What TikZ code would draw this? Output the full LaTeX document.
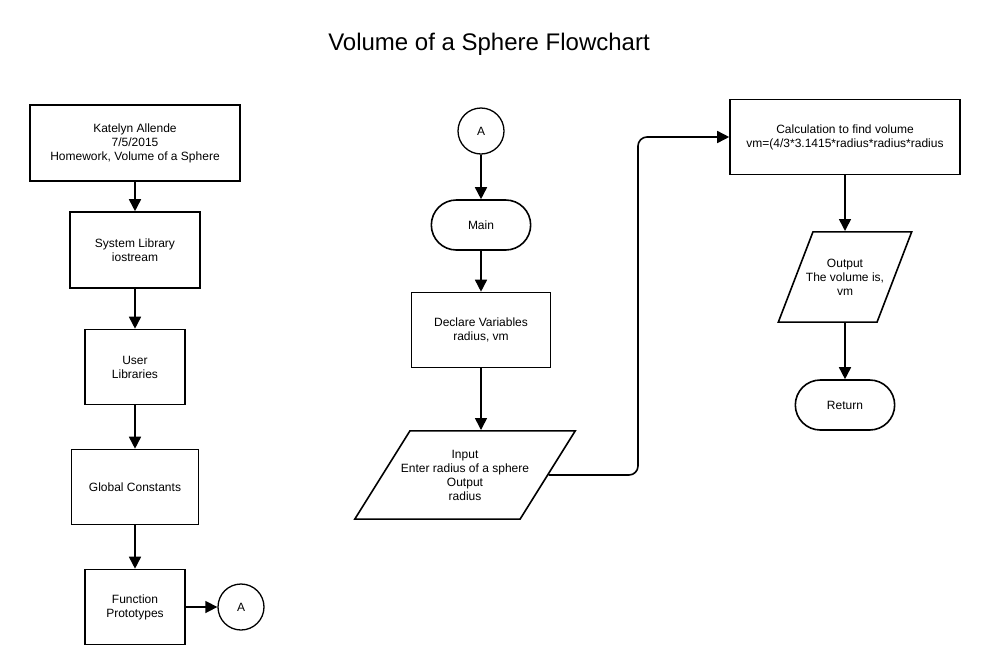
\documentclass[tikz,border=0pt]{standalone}
\usepackage{fontspec}
\setmainfont{Liberation Sans}
\usetikzlibrary{shapes.geometric, shapes.misc, arrows.meta, calc}

\begin{document}
\begin{tikzpicture}[x=1pt, y=-1pt, node distance=120pt, every node/.style={font=\fontsize{12}{14}\selectfont}]
% Styles
\tikzstyle{box} = [rectangle, draw=black, line width=1.6pt, text centered, align=center, inner sep=2pt]
\tikzstyle{term} = [rounded rectangle, draw=black, line width=1.6pt, text centered, align=center, minimum width=106pt, minimum height=50pt]
\tikzstyle{io} = [trapezium, trapezium stretches body=true, draw=black, line width=1.6pt, text centered, align=center]
\tikzstyle{conn} = [circle, draw=black, line width=1.3pt, minimum size=46pt, inner sep=0pt]
\tikzstyle{arrow} = [line width=1.6pt, -{Triangle[length=12pt, width=12pt]}]

\useasboundingbox (0,0) rectangle (983,665);

% Title
\node (title) [font=\fontsize{24}{28}\selectfont] at (489,44) {Volume of a Sphere Flowchart};

% Left column
\node (info) [box, minimum width=210pt, minimum height=76pt] at (135,143) {Katelyn Allende\\7/5/2015\\Homework, Volume of a Sphere};
\node (syslib) [box, below of=info, yshift=13pt, minimum width=130pt, minimum height=76pt] {System Library\\iostream};
\node (userlib) [box, below of=syslib, yshift=3pt, minimum width=100pt, minimum height=75pt] {User\\Libraries};
\node (globals) [box, below of=userlib, minimum width=127pt, minimum height=75pt] {Global Constants};
\node (protos) [box, below of=globals, minimum width=100pt, minimum height=75pt] {Function\\Prototypes};
\node (connA) [conn, right of=protos, xshift=-14pt] {A};

% Middle column
\node (connB) [conn] at (481,131) {A};
\node (main) [term, below of=connB, yshift=26pt] {Main};
\node (declare) [box, below of=main, yshift=15pt, minimum width=139pt, minimum height=75pt] {Declare Variables\\radius, vm};
\node (input) [io, below of=declare, xshift=-16pt, yshift=-25pt, trapezium left angle=58, trapezium right angle=122, inner xsep=-9pt, inner ysep=19pt] {Input\\Enter radius of a sphere\\Output\\ radius};

% Right column
\node (calc) [box, minimum width=230pt, minimum height=75pt] at (845,137) {Calculation to find volume\\vm=(4/3*3.1415*radius*radius*radius};
\node (output) [io, below of=calc, yshift=-20pt, trapezium left angle=69, trapezium right angle=111, inner xsep=-7pt, inner ysep=27pt] {Output\\The volume is,\\vm};
\node (return) [term, below of=output, yshift=-8pt] {Return};

% Arrows
\draw [arrow] (info) -- (syslib);
\draw [arrow] (syslib) -- (userlib);
\draw [arrow] (userlib) -- (globals);
\draw [arrow] (globals) -- (protos);
\draw [arrow] (protos) -- (connA);
\draw [arrow] (connB) -- (main);
\draw [arrow] (main) -- (declare);
\draw [arrow] (declare) -- (declare |- input.north);
\coordinate (bend) at (638,300);
\draw [arrow, rounded corners=9pt] (input.east) -- (input.east -| bend) -- (bend |- calc.west) -- (calc.west);
\draw [arrow] (calc) -- (output);
\draw [arrow] (output) -- (return);
\end{tikzpicture}
\end{document}
